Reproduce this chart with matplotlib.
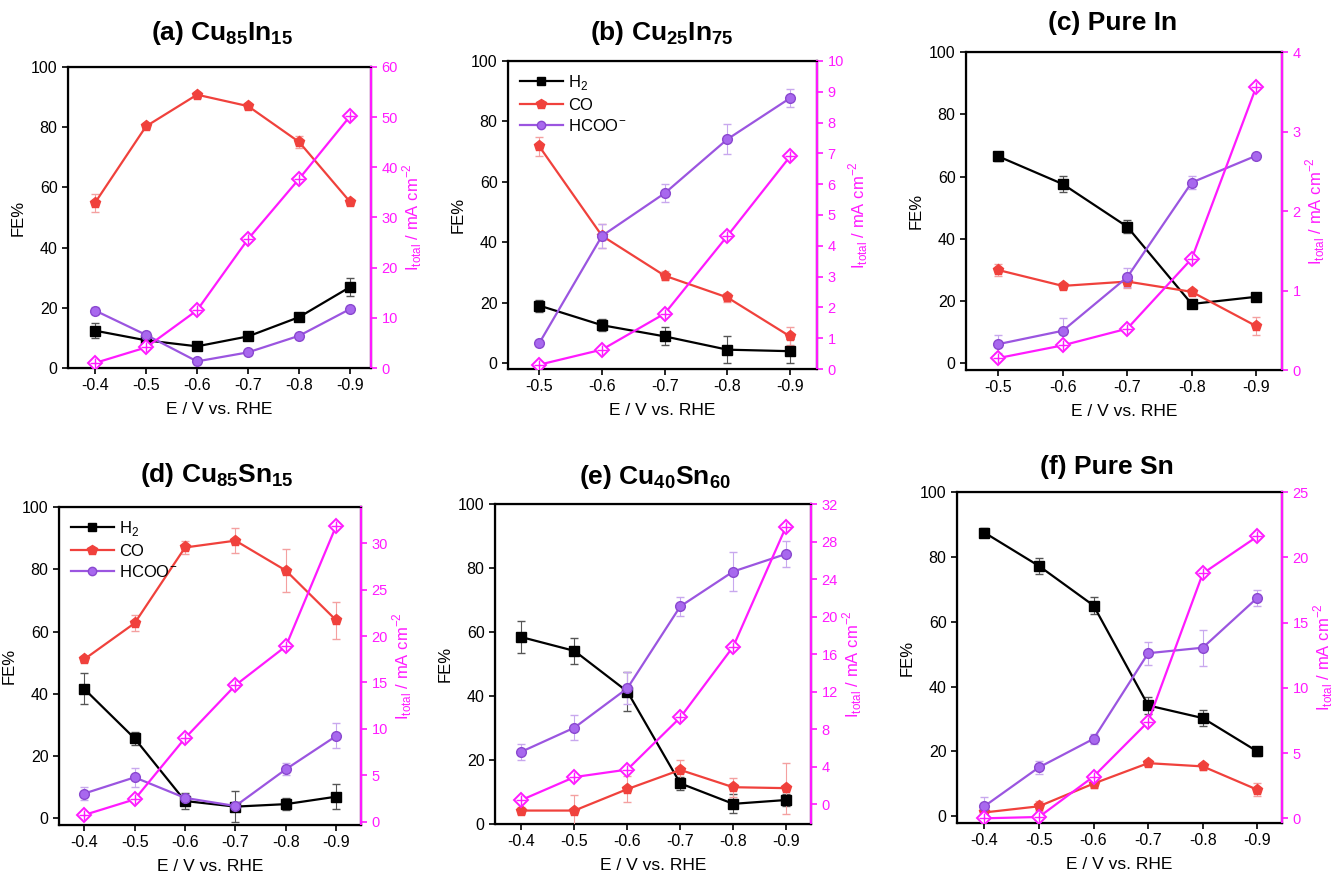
import matplotlib
matplotlib.use("Agg")
import matplotlib.pyplot as plt
from matplotlib.lines import Line2D

plt.rcParams['font.family'] = ['Liberation Sans', 'DejaVu Sans']
plt.rcParams['mathtext.fontset'] = 'custom'
plt.rcParams['mathtext.rm'] = 'Liberation Sans'
plt.rcParams['mathtext.bf'] = 'Liberation Sans:bold'

W, H = 1334, 872

# potentials (V vs. RHE)
x6 = [-0.4, -0.5, -0.6, -0.7, -0.8, -0.9]
x5 = [-0.5, -0.6, -0.7, -0.8, -0.9]

titles = ["(a) Cu$_{\\mathbf{85}}$In$_{\\mathbf{15}}$", "(b) Cu$_{\\mathbf{25}}$In$_{\\mathbf{75}}$", "(c) Pure In",
          "(d) Cu$_{\\mathbf{85}}$Sn$_{\\mathbf{15}}$", "(e) Cu$_{\\mathbf{40}}$Sn$_{\\mathbf{60}}$", "(f) Pure Sn"]

xs = [x6, x5, x5, x6, x6, x6]

h2 = [[12.4, 9.2, 7.2, 10.5, 16.9, 26.9],
      [19.0, 12.5, 8.8, 4.4, 3.9],
      [66.5, 57.6, 43.9, 19.1, 21.4],
      [41.6, 25.7, 5.6, 3.8, 4.6, 7.0],
      [58.4, 54.1, 41.4, 12.7, 6.3, 7.5],
      [87.5, 77.2, 65.0, 34.2, 30.3, 20.0]]
h2_err = [[2.5, 1, 1, 1, 1, 3],
          [2, 2, 3, 4.5, 4],
          [1.5, 2.5, 2, 1, 1],
          [5, 2, 2.5, 5, 2, 4],
          [5, 4, 6, 2, 3, 2],
          [1.5, 2.5, 2.5, 2.5, 2.5, 1.5]]

co = [[54.9, 80.3, 90.8, 87.0, 75.1, 55.2],
      [71.7, 42.1, 28.9, 21.7, 8.8],
      [30.0, 24.9, 26.3, 23.0, 12.0],
      [51.1, 62.7, 87.0, 89.2, 79.6, 63.6],
      [4.2, 4.2, 10.9, 16.9, 11.5, 11.2],
      [1.2, 3.1, 10.1, 16.4, 15.4, 8.2]]
co_err = [[3, 1, 1, 1, 2, 1],
          [3, 4, 1.5, 1.5, 3],
          [2, 1, 2, 1, 3],
          [1, 2.5, 2, 4, 7, 6],
          [1, 5, 4, 3, 3, 8],
          [1, 1.5, 1.5, 1, 1, 2]]

hcoo = [[19.1, 11.0, 2.2, 5.2, 10.7, 19.6],
        [6.6, 42.1, 56.2, 74.1, 87.7],
        [6.2, 10.5, 27.7, 58.1, 66.7],
        [8.0, 13.2, 6.6, 4.0, 15.8, 26.5],
        [22.6, 30.1, 42.4, 68.0, 78.9, 84.4],
        [3.1, 15.1, 23.9, 50.3, 52.0, 67.4]]
hcoo_err = [[1, 1, 1, 1, 1, 1],
            [1, 4, 3, 5, 3],
            [3, 4, 3, 2, 1],
            [2, 3, 1, 1, 2, 4],
            [2.5, 4, 5, 3, 6, 4],
            [3, 2, 1.5, 3.5, 5.5, 2.5]]

# total current density (mA cm-2)
itot = [[1.0, 4.1, 11.5, 25.7, 37.7, 50.2],
        [0.14, 0.63, 1.8, 4.32, 6.9],
        [0.15, 0.31, 0.52, 1.40, 3.56],
        [0.72, 2.4, 9.0, 14.7, 18.9, 31.9],
        [0.46, 2.9, 3.7, 9.25, 16.8, 29.6],
        [0.0, 0.1, 3.2, 7.4, 18.76, 21.6]]

# layout in pixels: left, top, right, bottom
boxes = [(68, 67, 371, 368), (508, 61, 817, 369), (966, 52, 1282, 370),
         (59, 507, 361, 825), (495, 504, 811, 824), (957, 492, 1282, 823)]
xlims = [(-0.347, -0.941), (-0.45, -0.943), (-0.45, -0.94),
         (-0.35, -0.949), (-0.35, -0.947), (-0.35, -0.945)]
ylims = [(0, 100), (-2, 100), (-2.1, 100), (-2.1, 100), (0, 100), (-2.05, 100)]
rlims = [(0, 60), (0, 10), (0, 4), (-0.36, 33.9), (-2.1, 32), (-0.36, 25)]
rticks = [range(0, 61, 10), range(0, 11), range(0, 5), range(0, 31, 5), range(0, 33, 4), range(0, 26, 5)]
title_pos = [(222, 33), (662, 33), (1113, 23), (217, 475), (655, 477), (1107, 467)]
legend_on = [False, True, False, True, False, False]

black = '#000000'
red = '#f0413c'
purple = '#9b55e0'
mag = '#ff1aff'

fig = plt.figure(figsize=(W / 100, H / 100), dpi=100)

for i in range(6):
    l, t, r, b = boxes[i]
    ax = fig.add_axes([l / W, 1 - b / H, (r - l) / W, (b - t) / H])
    x = xs[i]
    ax.errorbar(x, h2[i], yerr=h2_err[i], color=black, ecolor='#555555', elinewidth=0.8, capsize=3,
                marker='s', markersize=7, lw=1.6, zorder=3)
    ax.errorbar(x, co[i], yerr=co_err[i], color=red, ecolor='#f4a0a0', elinewidth=0.8, capsize=3,
                marker='p', markersize=8, lw=1.6, zorder=3)
    ax.errorbar(x, hcoo[i], yerr=hcoo_err[i], color=purple, ecolor='#c8a8ee', elinewidth=0.8, capsize=3,
                marker='o', markersize=7, mfc='#a868ee', mec='#8a48d0', lw=1.6, zorder=3)
    ax.set_xlim(*xlims[i])
    ax.set_ylim(*ylims[i])
    ax.set_xticks(x)
    ax.set_xticklabels(['%.1f' % v for v in x])
    ax.set_yticks(range(0, 101, 20))
    ax.tick_params(axis='both', direction='out', labelsize=11.5, length=4, width=1.2)
    ax.tick_params(top=False)
    for s in ax.spines.values():
        s.set_linewidth(1.6)
    ax.set_ylabel('FE%', fontsize=12)
    ax.set_xlabel('E / V vs. RHE', fontsize=12.5, labelpad=6)
    if legend_on[i]:
        handles = [Line2D([], [], color=black, lw=1.6, marker='s', markersize=6),
                   Line2D([], [], color=red, lw=1.6, marker='p', markersize=7),
                   Line2D([], [], color=purple, lw=1.6, marker='o', markersize=6, mfc='#a868ee', mec='#8a48d0')]
        ax.legend(handles, ['H$_2$', 'CO', 'HCOO$^{-}$'], loc='upper left', frameon=False, fontsize=12,
                  handlelength=2.6, handletextpad=0.3, labelspacing=0.35, borderaxespad=0.3)

    ax2 = ax.twinx()
    ax2.plot(x, itot[i], color=mag, lw=1.6, marker='D', markersize=7, mfc='white', mec=mag, mew=1.4, zorder=4)
    ax2.plot(x, itot[i], color=mag, lw=0, marker='+', markersize=7, mew=1.0, zorder=5)
    ax2.set_ylim(*rlims[i])
    ax2.set_yticks(list(rticks[i]))
    ax2.tick_params(axis='y', colors=mag, labelsize=10.5, direction='out', length=4, width=1.2)
    ax2.spines['right'].set_color(mag)
    ax2.spines['right'].set_linewidth(1.6)
    ax2.set_ylabel('I$_{\\mathregular{total}}$ / mA cm$^{-2}$', color=mag, fontsize=12, labelpad=2)

    tx, ty = title_pos[i]
    fig.text(tx / W, 1 - ty / H, titles[i], ha='center', va='center', fontsize=19, fontweight='bold')

fig.savefig('out.png', dpi=100)
